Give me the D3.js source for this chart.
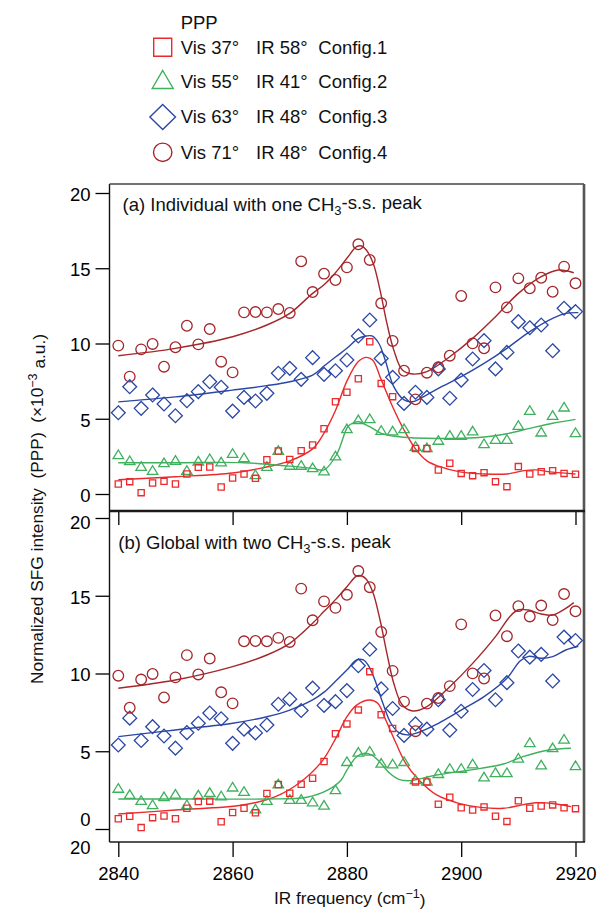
<!DOCTYPE html>
<html><head><meta charset="utf-8">
<script src="https://cdn.jsdelivr.net/npm/d3@7"></script>
<style>
html,body{margin:0;padding:0;background:#fff;}
svg{display:block;font-family:"Liberation Sans",Arial,sans-serif;}
</style></head>
<body><svg id="c" width="598" height="910"></svg>
<script>
// ---------- data ----------
const freq = d3.range(41).map(i => 2840 + 2 * i); // measured IR frequencies (cm-1), every 2 cm-1
const config1 = [0.66,0.82,0.09,0.73,0.84,0.66,1.33,1.77,1.79,0.47,1.06,1.33,1.04,2.28,2.86,2.30,2.88,3.26,4.34,6.13,6.76,7.66,10.12,7.35,6.47,null,3.03,3.03,1.59,2.04,1.37,1.22,1.42,0.82,0.49,1.82,1.33,1.48,1.55,1.37,1.31];
const config2 = [2.64,2.24,1.86,1.59,2.10,2.26,1.59,2.21,2.37,2.15,2.72,2.44,1.31,1.86,2.92,1.93,1.93,1.77,1.55,2.55,4.36,4.96,5.03,4.25,4.21,4.36,3.19,3.10,3.59,3.92,3.92,4.21,3.37,3.65,3.65,4.58,5.58,4.14,5.25,5.80,4.10];
const config3 = [5.40,7.13,5.69,6.58,5.98,5.20,6.20,6.80,7.46,7.09,5.51,6.42,6.18,6.69,8.02,8.35,7.62,9.06,7.95,8.19,8.90,10.50,11.56,9.01,7.75,6.02,6.76,6.42,8.31,6.36,7.57,8.97,10.19,8.31,9.41,11.45,11.05,11.23,9.52,12.34,12.12];
const config4 = [9.86,7.80,9.61,9.97,8.46,9.75,11.18,9.94,10.96,8.79,8.08,12.07,12.09,12.07,12.29,12.03,15.46,13.42,14.64,14.22,15.06,16.59,15.55,12.67,10.17,8.19,6.29,8.06,8.42,9.19,13.16,10.01,9.68,13.73,12.40,14.33,13.67,14.37,13.44,15.11,14.00];

// fitted curves, panel (a)
const fitA1x = [2840,2850,2860,2865,2870,2874,2876,2878,2880,2882,2883.4,2884.5,2886,2888,2890,2892,2894,2896,2900,2904,2908,2911,2913,2916,2920];
const fitA1y = [0.95,1.15,1.40,1.72,2.20,3.00,4.05,5.55,7.50,8.80,9.08,8.90,7.60,5.80,4.25,3.00,2.20,1.85,1.45,1.33,1.33,1.55,1.60,1.45,1.33];
const fitA2x = [2840,2850,2862,2870,2874,2876,2878.2,2880.2,2881.2,2882,2884,2886,2888,2890,2894,2900,2904.5,2908,2912,2916,2920];
const fitA2y = [2.08,2.08,2.08,1.85,1.70,1.60,2.62,4.50,4.74,4.80,4.47,4.03,3.85,3.77,3.70,3.70,3.80,4.00,4.36,4.70,4.96];
const fitA3x = [2840,2850,2860,2866,2870,2874,2876,2878,2880,2882,2883.4,2884.4,2885.6,2886.7,2888.2,2890,2891.5,2892.9,2896,2900,2904,2908,2912,2916,2918.3,2920.5];
const fitA3y = [6.12,6.45,6.90,7.20,7.46,7.90,8.50,9.10,9.68,10.34,10.50,10.50,10.00,8.90,7.13,6.25,6.13,6.36,7.02,7.80,8.68,9.68,10.79,11.67,12.00,12.05];
const fitA4x = [2840,2850,2860,2866,2870,2874,2876,2878,2880,2881.7,2882.6,2883.4,2884.6,2885.8,2887,2888.2,2889.7,2891.5,2894,2898,2902,2906,2910,2914,2917,2919.7];
const fitA4y = [9.19,9.68,10.45,11.23,12.00,13.33,13.90,14.70,15.66,16.43,16.48,16.21,15.33,13.55,11.34,9.57,8.24,7.97,8.13,9.12,10.34,11.78,13.33,14.44,14.88,14.70];

// fitted curves, panel (b)
const fitB1x = [2840,2850,2861.8,2867.5,2871.6,2875.6,2878,2880,2881.7,2884,2885.4,2886.8,2888.6,2890.3,2892.6,2895.7,2899.6,2903.4,2907.4,2909.7,2913.1,2916.6,2919.2];
const fitB1y = [0.96,1.22,1.54,2.08,2.94,4.33,5.80,7.22,7.97,8.30,8.08,7.01,5.51,4.22,3.15,2.19,1.65,1.39,1.33,1.48,1.69,1.61,1.44];
const fitB2x = [2840,2855,2866,2873,2876.7,2879,2880,2881.7,2883.1,2884.3,2885.7,2887.5,2889.1,2891.1,2893.8,2895.7,2899.6,2903.4,2907.4,2910.8,2915.4,2919.2];
const fitB2y = [1.93,1.93,1.93,2.04,2.51,3.15,3.79,4.65,4.87,4.76,4.33,3.58,3.19,3.11,3.32,3.47,3.69,3.90,4.18,4.65,5.08,5.19];
const fitB3x = [2840,2850,2860,2866,2870,2874,2876,2878,2880,2881.7,2882.9,2883.7,2884.9,2886.3,2887.7,2889.1,2890.6,2892,2896,2900,2904,2908,2910.3,2911.8,2914,2916,2918.3,2920.5];
const fitB3y = [5.94,6.37,6.80,7.22,7.65,8.30,8.80,9.50,10.22,10.87,10.87,10.55,9.58,8.08,6.80,6.20,6.05,6.15,6.80,7.65,8.51,9.69,10.80,11.10,10.98,11.08,11.51,11.75];
const fitB4x = [2840,2850,2860,2866,2870,2874,2876,2878,2880,2881.7,2882.6,2883.4,2884.6,2885.8,2887,2888.2,2889.7,2891.5,2894,2898,2902,2906,2908.6,2910,2911.8,2914,2916,2918.3,2919.7];
const fitB4y = [9.05,9.58,10.44,11.19,11.94,13.23,14.00,14.75,15.58,16.27,16.27,16.06,15.16,13.44,11.30,9.37,7.97,7.59,7.87,9.15,10.65,12.37,13.70,14.10,14.08,13.83,13.76,14.19,14.56];

const xTicks = [2840,2860,2880,2900,2920];
const yTicks = [0,5,10,15,20];
const legendTitle = "PPP";
const legendVis = ["Vis 37°","Vis 55°","Vis 63°","Vis 71°"];
const legendIR  = ["IR 58°","IR 41°","IR 48°","IR 48°"];
const legendCfg = ["Config.1","Config.2","Config.3","Config.4"];

// ---------- drawing ----------
const colors = ["#ea2a2c","#3fb05d","#2b47a5","#a3272b"];
const svg = d3.select("#c");
const FS = 18.5;
const L = 109.5, R = 584, TA = 184, MID = 511, BB = 842;

const x = d3.scaleLinear().domain([2840,2920]).range([118.3,575.5]);
const yA = d3.scaleLinear().domain([0,20]).range([494,193]);
const yB = d3.scaleLinear().domain([0,20]).range([829,518]);

function triPath(w,h){return `M0,${-h/2}L${w/2},${h/2}L${-w/2},${h/2}Z`;}
function diaPath(a,b){return `M0,${-b}L${a},0L0,${b}L${-a},0Z`;}
function sqPath(s){return `M${-s/2},${-s/2}h${s}v${s}h${-s}Z`;}
function circPath(r){const p=d3.path();p.arc(0,0,r,0,2*Math.PI);p.closePath();return p.toString();}
const dataShapes = [sqPath(6.2), triPath(10.5,8.6), diaPath(6.9,6.9), circPath(5.3)];
const legShapes  = [sqPath(18), triPath(21,18), diaPath(12.8,12.6), circPath(9.2)];

// clip paths
const defs = svg.append("defs");
defs.append("clipPath").attr("id","clipA").append("rect").attr("x",L).attr("y",TA).attr("width",R-L).attr("height",MID-TA);
defs.append("clipPath").attr("id","clipB").append("rect").attr("x",L).attr("y",MID).attr("width",R-L).attr("height",BB-MID);

const series = [config1, config2, config3, config4];
const fitsA = [[fitA1x,fitA1y],[fitA2x,fitA2y],[fitA3x,fitA3y],[fitA4x,fitA4y]];
const fitsB = [[fitB1x,fitB1y],[fitB2x,fitB2y],[fitB3x,fitB3y],[fitB4x,fitB4y]];

function drawPanel(y, fits, clip){
  const g = svg.append("g").attr("clip-path",`url(#${clip})`);
  fits.forEach((f,k)=>{
    const pts = f[0].map((v,i)=>[v,f[1][i]]);
    const line = d3.line().x(d=>x(d[0])).y(d=>y(d[1])).curve(d3.curveCatmullRom.alpha(0.5));
    g.append("path").attr("d",line(pts)).attr("fill","none").attr("stroke",colors[k]).attr("stroke-width",1.4);
  });
  [1,0,2,3].forEach(k=>{
    const pts = freq.map((f,i)=>[f,series[k][i]]).filter(d=>d[1]!=null);
    g.selectAll(null).data(pts).enter().append("path")
      .attr("d",dataShapes[k])
      .attr("transform",d=>`translate(${x(d[0])},${y(d[1])})`)
      .attr("fill","none").attr("stroke",colors[k]).attr("stroke-width",1.3);
  });
}
drawPanel(yA, fitsA, "clipA");
drawPanel(yB, fitsB, "clipB");

// axes
function styleAxis(g){
  g.select(".domain").remove();
  g.selectAll(".tick line").attr("stroke","#000").attr("stroke-width",1.3);
  g.selectAll(".tick text").attr("fill","#000").style("font-size",FS+"px").style("font-family","'Liberation Sans',Arial,sans-serif");
}
const axA = svg.append("g").attr("transform",`translate(${L},0)`)
  .call(d3.axisLeft(yA).tickValues(yTicks).tickSize(14).tickPadding(5).tickFormat(d3.format("d")));
styleAxis(axA);
axA.selectAll(".tick text").attr("dy","0.4em");

const axB = svg.append("g").attr("transform",`translate(${L},0)`)
  .call(d3.axisLeft(yB).tickValues(yTicks).tickSize(14).tickPadding(5).tickFormat(d3.format("d")));
styleAxis(axB);
axB.selectAll(".tick text").attr("dy","0.4em");
axB.selectAll(".tick").filter(d=>d===0).select("text").attr("y",-11);
axB.selectAll(".tick").filter(d=>d===20).select("text").attr("dy","0.55em");
svg.append("text").attr("x",L-19).attr("y",853.5).attr("text-anchor","end")
  .style("font-size",FS+"px").text(yTicks[4]);

const axX = svg.append("g").attr("transform",`translate(0,${BB})`)
  .call(d3.axisBottom(x).tickValues(xTicks).tickSize(15).tickPadding(10).tickFormat(d3.format("d")));
styleAxis(axX);
const axXt = svg.append("g").attr("transform",`translate(0,${MID})`)
  .call(d3.axisTop(x).tickValues(xTicks).tickSize(-14).tickFormat(""));
styleAxis(axXt);

// frame
const fr = svg.append("g").attr("fill","none");
fr.append("line").attr("x1",L).attr("x2",L).attr("y1",TA).attr("y2",BB).attr("stroke","#111").attr("stroke-width",1.4);
fr.append("line").attr("x1",L).attr("x2",R).attr("y1",TA).attr("y2",TA).attr("stroke","#444").attr("stroke-width",1.3);
fr.append("line").attr("x1",R).attr("x2",R).attr("y1",TA).attr("y2",BB).attr("stroke","#555").attr("stroke-width",2.6);
fr.append("line").attr("x1",L).attr("x2",R+1).attr("y1",MID).attr("y2",MID).attr("stroke","#1a1a1a").attr("stroke-width",2.7);
fr.append("line").attr("x1",L).attr("x2",R+1).attr("y1",BB).attr("y2",BB).attr("stroke","#1a1a1a").attr("stroke-width",1.7);

// panel titles
function panelTitle(px,py,pre,post){
  const t = svg.append("text").attr("x",px).attr("y",py).style("font-size",FS+"px").attr("fill","#111");
  t.append("tspan").text(pre);
  t.append("tspan").attr("dy","0.3em").style("font-size","13px").text("3");
  t.append("tspan").attr("dy","-0.3em").text(post);
}
panelTitle(122.5,210.7,"(a) Individual with one CH","-s.s. peak");
panelTitle(118.3,549.3,"(b) Global with two CH","-s.s. peak");

// axis titles
const yt = svg.append("text").attr("transform","translate(42.5,509) rotate(-90)")
  .attr("text-anchor","middle").style("font-size","17.3px").style("white-space","pre").attr("fill","#111");
yt.append("tspan").text("Normalized SFG intensity  (PPP)  (×10");
yt.append("tspan").attr("dy","-0.45em").style("font-size","12.5px").text("−3");
yt.append("tspan").attr("dy","0.45em").text(" a.u.)");

const xt = svg.append("text").attr("x",349.7).attr("y",904).attr("text-anchor","middle")
  .style("font-size","17.3px").attr("fill","#111");
xt.append("tspan").text("IR frequency (cm");
xt.append("tspan").attr("dy","-0.45em").style("font-size","12.5px").text("−1");
xt.append("tspan").attr("dy","0.45em").text(")");

// legend
svg.append("text").attr("x",180.7).attr("y",29.3).style("font-size",FS+"px").attr("fill","#111").text(legendTitle);
const rowsY = [47.3, 79.5, 117, 152.3];
const baseY = [54, 88.3, 123.3, 159.3];
legendVis.forEach((v,i)=>{
  svg.append("path").attr("d",legShapes[i]).attr("transform",`translate(162.7,${rowsY[i]})`)
    .attr("fill","none").attr("stroke",colors[i]).attr("stroke-width",1.4);
  svg.append("text").attr("x",180.7).attr("y",baseY[i]).style("font-size",FS+"px").attr("fill","#111").text(v);
  svg.append("text").attr("x",256).attr("y",baseY[i]).style("font-size",FS+"px").attr("fill","#111").text(legendIR[i]);
  svg.append("text").attr("x",318.3).attr("y",baseY[i]).style("font-size",FS+"px").attr("fill","#111").text(legendCfg[i]);
});
</script></body></html>
